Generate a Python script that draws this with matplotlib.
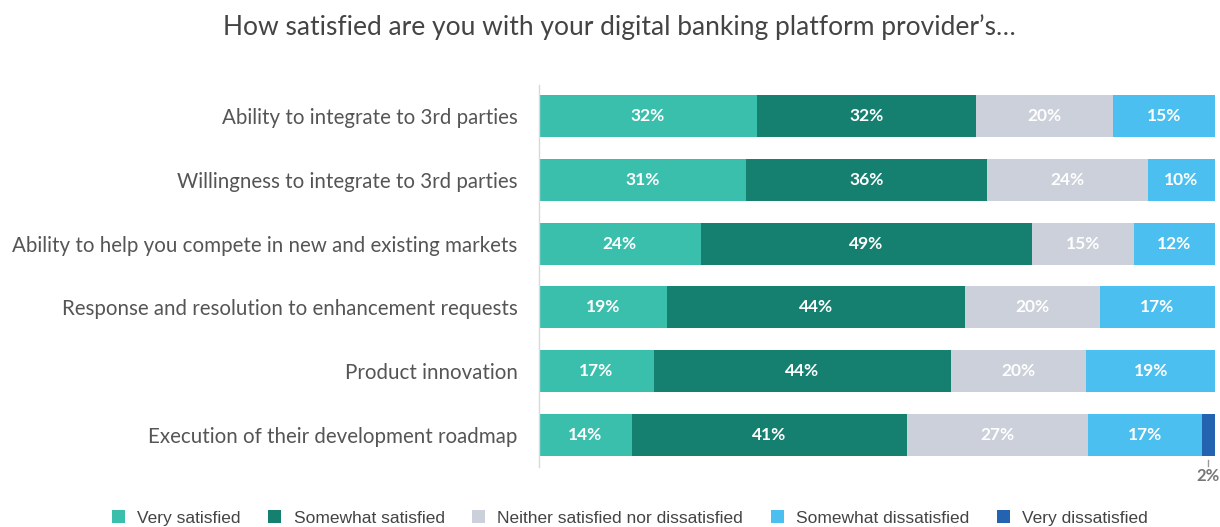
import matplotlib
matplotlib.use("Agg")
import matplotlib.pyplot as plt
import numpy as np

categories = [
    "Ability to integrate to 3rd parties",
    "Willingness to integrate to 3rd parties",
    "Ability to help you compete in new and existing markets",
    "Response and resolution to enhancement requests",
    "Product innovation",
    "Execution of their development roadmap",
]
series_names = ["Very satisfied", "Somewhat satisfied", "Neither satisfied nor dissatisfied",
                "Somewhat dissatisfied", "Very dissatisfied"]
very_satisfied = [32, 31, 24, 19, 17, 14]
somewhat_satisfied = [32, 36, 49, 44, 44, 41]
neither = [20, 24, 15, 20, 20, 27]
somewhat_dissatisfied = [15, 10, 12, 17, 19, 17]
very_dissatisfied = [0, 0, 0, 0, 0, 2]
colors = ["#3BBFAD", "#168070", "#CBD0DA", "#4BBFEF", "#2463B0"]
label_colors = ["white", "white", "white", "white", "white"]

data = np.array([very_satisfied, somewhat_satisfied, neither, somewhat_dissatisfied, very_dissatisfied], dtype=float)
totals = data.sum(axis=0)
norm = data / totals * 100

fig = plt.figure(figsize=(12.2, 5.27), dpi=100)
ax = fig.add_axes([538.5 / 1220, 1 - 466.5 / 527, (1215 - 538.5) / 1220, (466.5 - 84.5) / 527])

y = np.arange(len(categories))
left = np.zeros(len(categories))
for i, name in enumerate(series_names):
    ax.barh(y, norm[i], left=left, height=0.66, color=colors[i], label=name, edgecolor="none")
    for j in range(len(categories)):
        v = data[i, j]
        if v >= 5:
            ax.text(left[j] + norm[i, j] / 2, y[j], f"{int(v)}%", ha="center", va="center",
                    color=label_colors[i], fontsize=12.5, fontweight="bold", family=["Lato", "DejaVu Sans"])
        elif v > 0:
            xc = left[j] + norm[i, j] / 2
            ax.plot([xc, xc], [y[j] + 0.40, y[j] + 0.49], color="#999999", lw=1, clip_on=False)
            ax.text(xc, y[j] + 0.53, f"{int(v)}%", ha="center", va="top", color="#777777",
                    fontsize=12, fontweight="bold", family=["Lato", "DejaVu Sans"], clip_on=False)
    left += norm[i]

ax.set_xlim(0, 100)
ax.set_ylim(len(categories) - 0.5, -0.5)
ax.set_yticks(y)
ax.set_yticklabels(categories, fontsize=14.8, color="#555555", family=["Lato", "DejaVu Sans"])
ax.tick_params(axis="y", length=0, pad=15)
ax.set_xticks([])
for s in ["top", "right", "bottom"]:
    ax.spines[s].set_visible(False)
ax.spines["left"].set_color("#D9D9D9")
ax.spines["left"].set_linewidth(1)

fig.text(619 / 1220, 1 - 27 / 527, "How satisfied are you with your digital banking platform provider\u2019s\u2026",
         ha="center", va="center", fontsize=19, color="#444444", family=["Lato", "DejaVu Sans"])

handles, labels = ax.get_legend_handles_labels()
leg = fig.legend(handles, labels, loc="center", bbox_to_anchor=(630 / 1220, 1 - 518 / 527), ncol=5,
                 frameon=False, handlelength=0.75, handleheight=0.75, handletextpad=0.7, columnspacing=1.6,
                 prop={"family": ["Liberation Sans", "DejaVu Sans"], "size": 12.5})
for t in leg.get_texts():
    t.set_color("#444444")

fig.savefig("out.png", dpi=100)
